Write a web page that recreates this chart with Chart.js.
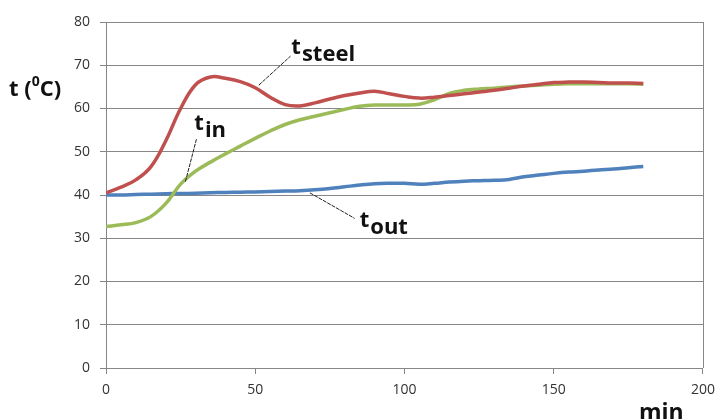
<!DOCTYPE html>
<html>
<head>
<meta charset="utf-8">
<script src="https://cdn.jsdelivr.net/npm/chart.js@4"></script>
<style>
html,body{margin:0;padding:0;background:#fff;}
#wrap{width:723px;height:419px;position:relative;}
</style>
</head>
<body>
<div id="wrap"><canvas id="c" width="723" height="419"></canvas></div>
<script>
// minutes (x values)
const minutes = [0,5,10,15,20,25,30,35,40,45,50,55,60,65,70,75,80,85,90,95,100,105,110,115,120,125,130,135,140,145,150,155,160,165,170,175,180];
const tSteel = [40.5,41.8,43.5,46.5,52.5,60,65.5,67.3,67,66.2,64.8,62.6,60.9,60.6,61.3,62.2,63,63.6,64,63.4,62.8,62.4,62.6,63,63.4,63.8,64.2,64.7,65.2,65.6,66,66.1,66.1,66,65.9,65.9,65.8];
const tIn = [32.7,33.1,33.6,35,38,42.5,45.5,47.6,49.5,51.3,53.1,54.8,56.3,57.4,58.2,59,59.8,60.5,60.8,60.8,60.8,61,62,63.5,64.2,64.5,64.7,65,65.2,65.4,65.6,65.7,65.7,65.7,65.7,65.7,65.6];
const tOut = [40,40,40.1,40.2,40.3,40.35,40.4,40.5,40.6,40.65,40.7,40.8,40.9,41,41.2,41.5,41.9,42.3,42.6,42.7,42.7,42.5,42.7,43,43.2,43.3,43.4,43.6,44.2,44.6,45,45.3,45.5,45.8,46,46.3,46.6];
const xTicks = [0,50,100,150,200];
const yTicks = [0,10,20,30,40,50,60,70,80];
// annotation labels: subscript names and [leaderFromX, leaderFromY, leaderToX, leaderToY, textX, textY] in data units
const labelNames = ['steel','in','out'];
const labelAnchors = [[51.2,65.4,61.8,72.1,62.1,72.6],[26.6,43.1,30.3,52.9,29.6,55],[68.3,40.5,83.3,34.6,85,32.7]];

const toPts = (arr) => arr.map((v,i)=>({x:minutes[i], y:v}));
const FONT = "'Open Sans', 'Lato', sans-serif";

const annot = {
  id:'annot',
  afterDraw(chart){
    const {ctx, scales:{x,y}, chartArea:a} = chart;
    ctx.save();
    // right border of plot area
    ctx.strokeStyle = '#878787';
    ctx.lineWidth = 1;
    ctx.beginPath();
    ctx.moveTo(Math.round(a.right)+0.5, a.top);
    ctx.lineTo(Math.round(a.right)+0.5, a.bottom);
    ctx.stroke();
    // leader lines and labels
    labelAnchors.forEach((p,i)=>{
      ctx.strokeStyle = '#222';
      ctx.lineWidth = 1;
      ctx.setLineDash([4,1]);
      ctx.beginPath();
      ctx.moveTo(x.getPixelForValue(p[0]), y.getPixelForValue(p[1]));
      ctx.lineTo(x.getPixelForValue(p[2]), y.getPixelForValue(p[3]));
      ctx.stroke();
      ctx.setLineDash([]);
      const tx = x.getPixelForValue(p[4]);
      const ty = y.getPixelForValue(p[5]);
      ctx.fillStyle = '#111';
      ctx.font = "bold 22px " + FONT;
      ctx.textBaseline = 'alphabetic';
      ctx.textAlign = 'left';
      ctx.fillText('t', tx, ty);
      const w = ctx.measureText('t').width;
      ctx.font = "bold 22px " + FONT;
      ctx.fillText(labelNames[i], tx + w + 1, ty + 7);
    });
    // y-axis title t (0C)
    ctx.fillStyle = '#111';
    ctx.font = "bold 22px " + FONT;
    let px = 9, py = 96;
    ctx.fillText('t (', px, py);
    px += ctx.measureText('t (').width;
    ctx.font = "bold 14px " + FONT;
    ctx.fillText('0', px, py - 10);
    px += ctx.measureText('0').width;
    ctx.font = "bold 22px " + FONT;
    ctx.fillText('C)', px, py);
    // x-axis title
    ctx.font = "bold 23px " + FONT;
    ctx.fillText('min', 639, 420);
    ctx.restore();
  }
};

const mk = (label, data, color) => ({
  label, data: toPts(data), borderColor: color, backgroundColor: color,
  borderWidth: 3.5, pointRadius: 0, tension: 0.4, fill: false
});

new Chart(document.getElementById('c'), {
  type: 'line',
  data: { datasets: [
    mk('t steel', tSteel, '#C0504D'),
    mk('t in', tIn, '#9BBB59'),
    mk('t out', tOut, '#4F81BD')
  ]},
  options: {
    responsive: false,
    animation: false,
    devicePixelRatio: 1,
    layout: { padding: { top: 22, right: 14, left: 0, bottom: 0 } },
    plugins: { legend: { display: false }, tooltip: { enabled: false } },
    scales: {
      x: {
        type: 'linear', min: 0, max: 200,
        afterBuildTicks: (s) => { s.ticks = xTicks.map(v=>({value:v})); },
        afterFit: (s) => { s.height = 51; },
        grid: { display: true, drawOnChartArea: false, drawTicks: true, tickLength: 6, color: '#878787' },
        border: { display: true, color: '#878787', width: 1 },
        ticks: { padding: 8, color: '#333', font: { family: FONT, size: 14 }, maxRotation: 0 }
      },
      y: {
        min: 0, max: 80,
        afterBuildTicks: (s) => { s.ticks = yTicks.map(v=>({value:v})); },
        afterFit: (s) => { s.width = 106; },
        grid: { color: '#878787', tickLength: 6, drawTicks: true },
        border: { display: true, color: '#878787', width: 1 },
        ticks: { padding: 10, color: '#333', font: { family: FONT, size: 14 } }
      }
    }
  },
  plugins: [annot]
});
</script>
</body>
</html>
